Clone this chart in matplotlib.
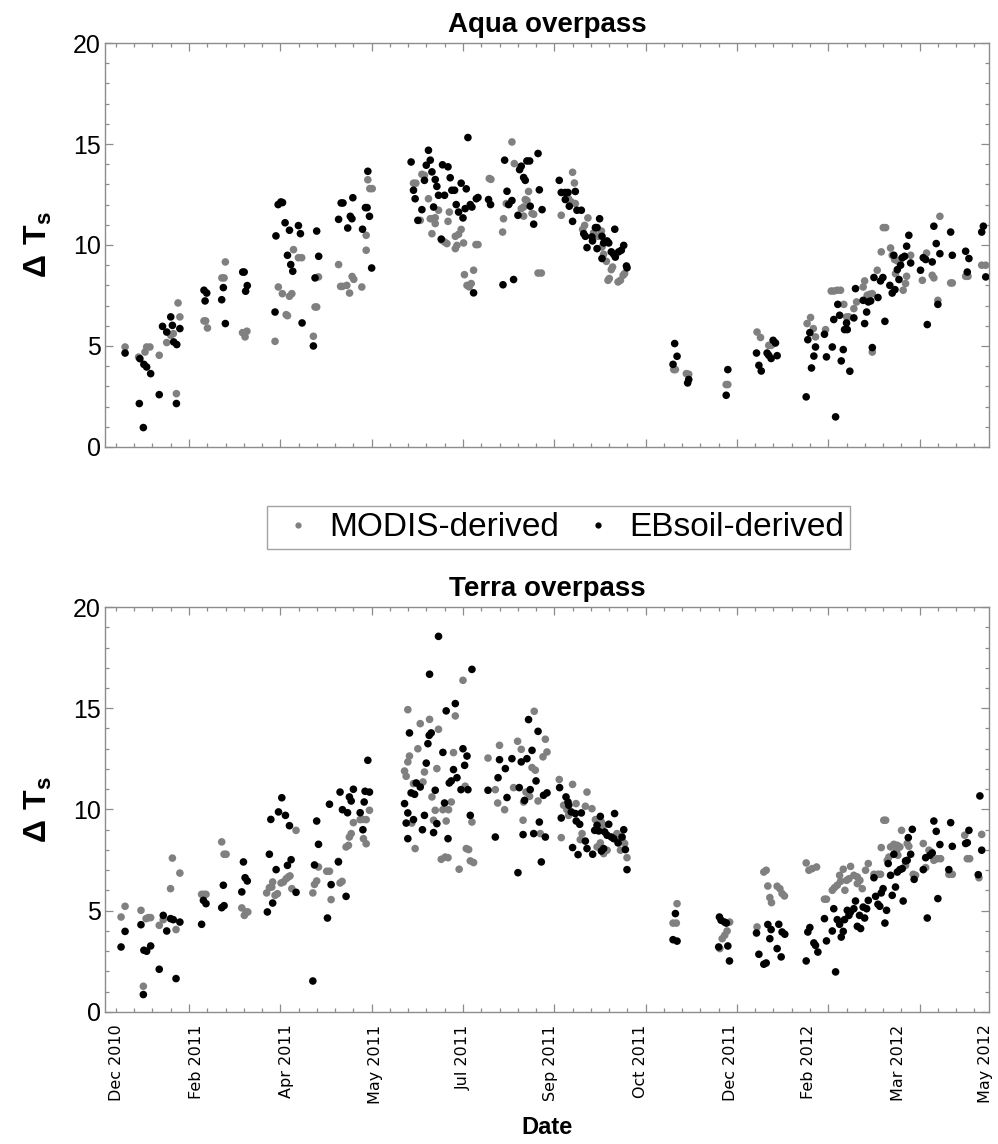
import matplotlib
matplotlib.use("Agg")
import matplotlib.pyplot as plt
from matplotlib.ticker import MultipleLocator
from matplotlib.lines import Line2D

plt.rcParams["font.family"] = ["Liberation Sans", "DejaVu Sans"]
plt.rcParams["mathtext.fontset"] = "custom"
plt.rcParams["mathtext.rm"] = "Liberation Sans"
plt.rcParams["mathtext.bf"] = "Liberation Sans:bold"

# ---------------------------------------------------------------------------
# Observation index (clear-sky scene number) and surface temperature difference
# ---------------------------------------------------------------------------
date_tick_pos = [10.4, 54.2, 103.5, 152.0, 200.0, 247.8, 297.0, 346.4, 389.0, 438.5, 486.0]
date_tick_labels = ["Dec 2010", "Feb 2011", "Apr 2011", "May 2011", "Jul 2011", "Sep 2011",
                    "Oct 2011", "Dec 2011", "Feb 2012", "Mar 2012", "May 2012"]

# ---- Aqua overpass ----
aqua_modis_x = [15.0, 22.4, 25.9, 26.8, 28.6, 33.7, 37.8, 40.0, 41.4, 44.0, 45.0, 43.1,
                58.2, 59.1, 60.1, 68.0, 69.2, 69.9, 79.3, 80.7, 81.7, 97.1, 98.9, 101.1,
                103.2, 103.9, 105.0, 106.3, 107.2, 109.9, 111.7, 118.1, 119.0, 119.9, 120.9,
                131.9, 133.0, 134.0, 136.4, 137.9, 139.3, 140.2, 144.6, 147.0, 147.0, 147.9,
                149.0, 150.3,
                226.8, 214.4, 215.3, 228.1, 172.9, 174.2, 177.5, 178.9, 181.1, 176.6, 182.1,
                183.3, 184.8, 186.6, 184.8, 191.8, 192.5, 183.0, 188.5, 189.9, 191.2, 195.8,
                197.6, 199.0, 196.7, 195.8, 200.3, 207.1, 208.2, 200.8, 205.8, 202.2, 204.5,
                203.4, 223.7, 225.3, 222.2, 221.7, 231.9, 233.2, 234.1, 235.0, 235.9, 237.8,
                238.7, 233.2, 241.1, 242.9, 260.0, 261.0, 253.8, 257.8, 259.3, 261.5, 268.4,
                266.6, 265.5, 273.9, 275.8, 276.1, 277.0, 278.5, 281.9, 281.2, 279.4, 280.1,
                284.9, 286.2, 287.7, 288.5, 271.5,
                315.4, 316.3, 322.3, 323.6, 344.1, 345.0,
                361.0, 362.9, 367.4, 368.7, 370.2, 390.3, 388.4, 391.8, 393.0, 398.5, 401.6,
                403.1, 404.9, 406.7, 408.5, 410.0, 411.3, 414.0, 415.5, 419.1, 419.9, 421.3,
                422.8, 424.1, 424.1, 426.8, 430.1, 431.4, 429.0, 434.1, 435.0, 436.3, 437.8,
                436.8, 442.9, 442.3, 441.0, 445.1, 439.6, 451.5, 453.8, 456.9, 457.8, 460.0,
                461.1, 467.0, 467.9, 475.2, 476.5, 484.0, 486.2]
aqua_modis_y = [4.95, 4.45, 4.70, 4.95, 4.95, 4.54, 5.17, 5.53, 5.61, 7.13, 6.44, 2.64,
                6.24, 6.24, 5.89, 8.37, 8.37, 9.16, 5.66, 5.45, 5.73, 5.23, 7.92, 7.59,
                6.55, 6.50, 7.46, 7.59, 9.77, 9.37, 9.37, 5.48, 6.93, 6.93, 8.42,
                9.03, 7.95, 7.95, 8.00, 7.62, 8.44, 8.30, 7.92, 9.74, 10.48, 13.23,
                12.79, 12.79,
                15.10, 13.29, 13.25, 14.03, 13.06, 13.06, 13.50, 13.45, 12.29, 11.22, 11.30,
                11.30, 11.35, 11.72, 11.06, 11.17, 11.63, 10.56, 10.23, 10.15, 10.07, 10.43,
                10.53, 10.77, 9.98, 9.82, 10.10, 10.02, 10.02, 8.53, 8.75, 8.00, 8.09,
                7.93, 12.05, 12.05, 11.30, 10.64, 11.80, 11.88, 12.25, 12.20, 12.65, 11.56,
                11.52, 11.43, 8.61, 8.61, 13.60, 13.07, 11.47, 12.29, 12.13, 12.05, 11.34,
                10.97, 10.77, 10.43, 10.69, 9.90, 9.54, 9.19, 8.91, 8.78, 8.25, 8.34,
                8.17, 8.25, 8.50, 8.59, 10.60,
                3.83, 3.83, 3.63, 3.60, 3.09, 3.09,
                5.69, 5.42, 5.03, 5.03, 5.12, 6.41, 6.11, 5.86, 5.45, 5.81, 7.72,
                7.72, 7.76, 7.76, 7.06, 6.44, 6.44, 6.85, 7.18, 7.92, 8.22, 7.51,
                7.56, 7.59, 4.70, 8.75, 10.86, 10.86, 9.66, 9.85, 9.49, 9.28, 9.21,
                8.58, 8.45, 8.09, 7.76, 9.49, 9.28, 8.25, 9.60, 8.50, 8.37, 7.26,
                11.42, 8.12, 8.12, 8.45, 8.45, 9.00, 9.00]

aqua_ebsoil_x = [15.0, 23.1, 25.3, 26.8, 29.0, 22.8, 25.0, 33.7, 35.5, 37.8, 40.0, 40.9,
                 41.6, 43.3, 45.0, 43.1, 58.2, 59.7, 58.8, 67.9, 68.8, 69.9, 79.4, 80.2,
                 81.0, 81.9, 97.6, 98.8, 100.3, 101.2, 97.1, 102.6, 103.9, 105.0, 105.7,
                 106.8, 109.9, 111.0, 111.9, 118.1, 119.0, 119.9, 121.0, 131.9, 133.3, 134.3,
                 136.9, 138.3, 139.2, 139.7, 145.0, 146.6, 147.5, 147.9, 148.8, 150.0,
                 202.7, 181.1, 171.6, 182.1, 188.8, 191.8, 179.9, 183.0, 178.9, 184.8, 193.0,
                 172.9, 173.8, 185.7, 186.6, 189.9, 193.9, 195.4, 199.0, 201.8, 177.5, 175.3,
                 183.9, 196.3, 197.6, 200.0, 201.2, 204.0, 204.9, 207.3, 208.2, 214.0, 215.1,
                 188.1, 222.8, 224.1, 225.0, 226.8, 231.0, 231.9, 235.0, 236.5, 241.1, 233.2,
                 234.1, 241.8, 236.8, 243.3, 230.1, 238.7, 221.9, 227.7, 205.8, 252.7, 253.8,
                 256.0, 257.5, 261.5, 256.0, 258.2, 262.4, 264.8, 260.0, 274.8, 266.1, 267.0,
                 272.5, 273.4, 283.1, 270.6, 270.9, 276.1, 277.0, 278.9, 279.8, 267.9, 273.4,
                 276.1, 281.2, 282.5, 285.2, 286.7, 288.0, 283.4, 289.5, 289.8,
                 315.0, 315.9, 317.2, 323.0, 323.6, 344.1, 345.0,
                 360.7, 362.0, 363.3, 366.5, 367.4, 368.7, 369.8, 371.1, 372.0, 387.9, 388.8,
                 389.9, 390.8, 392.1, 393.0, 397.9, 399.0, 403.0, 402.2, 404.0, 405.2, 406.2,
                 408.2, 407.1, 410.0, 408.9, 410.4, 411.8, 414.0, 414.9, 419.1, 419.9, 421.0,
                 421.9, 423.2, 424.1, 425.0, 427.2, 428.6, 429.9, 431.0, 433.7, 435.0, 436.5,
                 435.9, 437.8, 438.7, 439.6, 440.5, 441.8, 442.9, 444.1, 445.1, 450.5, 452.0,
                 453.3, 454.2, 456.9, 457.8, 459.1, 460.0, 461.1, 467.0, 467.9, 475.2, 476.1,
                 477.0, 484.0, 484.9, 486.2]
aqua_ebsoil_y = [4.65, 4.37, 4.09, 3.96, 3.63, 2.15, 0.96, 2.59, 5.97, 5.69, 6.44, 6.02,
                 5.20, 5.07, 5.86, 2.15, 7.76, 7.62, 7.23, 7.29, 7.89, 6.11, 8.66, 8.66,
                 7.71, 7.99, 10.45, 12.00, 12.13, 12.10, 6.68, 11.10, 9.49, 10.73, 9.03,
                 8.70, 10.96, 10.56, 6.14, 5.00, 8.37, 10.69, 9.44, 11.27, 12.08, 12.08,
                 10.84, 11.42, 11.30, 12.34, 10.78, 11.85, 11.85, 13.65, 11.42, 8.86,
                 15.32, 14.69, 14.11, 14.20, 13.97, 13.87, 13.95, 13.62, 13.20, 13.24, 13.33,
                 12.71, 12.29, 12.90, 12.46, 12.46, 12.71, 12.71, 13.06, 12.78, 11.75, 11.22,
                 11.88, 12.00, 11.63, 11.34, 11.80, 12.00, 11.88, 12.29, 12.35, 12.25, 12.00,
                 10.29, 14.20, 12.66, 12.00, 12.20, 13.73, 13.90, 14.16, 14.16, 14.53, 13.34,
                 13.20, 12.73, 11.92, 11.75, 11.47, 11.03, 8.03, 8.29, 7.63, 13.20, 12.60,
                 12.60, 12.60, 12.65, 12.25, 11.92, 11.72, 11.72, 11.17, 11.30, 10.56, 10.43,
                 10.86, 10.86, 10.78, 10.40, 10.20, 10.43, 10.10, 10.20, 10.10, 9.87, 9.82,
                 9.33, 9.66, 9.54, 9.66, 9.74, 9.98, 9.40, 8.96, 8.87,
                 4.09, 5.12, 4.49, 3.17, 3.34, 2.56, 3.83,
                 4.65, 4.04, 3.76, 4.65, 4.54, 4.38, 5.28, 5.15, 4.52, 2.48, 5.31,
                 5.66, 3.91, 4.50, 4.95, 5.58, 4.46, 6.31, 4.95, 1.49, 7.06, 6.52,
                 4.82, 4.26, 6.14, 5.81, 5.81, 3.75, 6.39, 7.84, 7.26, 6.11, 6.68,
                 7.18, 7.23, 4.92, 8.39, 7.40, 8.22, 8.39, 6.22, 8.00, 7.62, 7.79,
                 9.49, 8.78, 8.29, 9.00, 9.37, 9.44, 9.94, 10.48, 9.11, 8.75, 9.37,
                 9.28, 6.06, 9.16, 10.93, 10.07, 7.06, 9.57, 10.64, 9.49, 9.69, 8.66,
                 9.33, 10.64, 10.93, 8.42]

# ---- Terra overpass ----
terra_modis_x = [12.8, 15.0, 23.7, 25.0, 26.5, 27.7, 29.0, 33.7, 35.9, 39.9, 40.9, 42.9,
                 45.0, 56.9, 58.2, 59.3, 67.9, 69.2, 70.3, 78.9, 80.3, 81.3, 82.2, 92.5,
                 94.0, 95.3, 95.8, 97.1, 98.4, 100.4, 101.7, 103.2, 104.4, 105.3, 106.3,
                 108.6, 117.8, 118.7, 119.9, 120.9, 125.4, 126.9, 127.8, 131.8, 132.7, 133.8,
                 136.0, 137.3, 137.8, 138.8, 140.0, 143.7, 145.2, 145.5, 147.0, 148.8, 147.0,
                 200.0, 169.8, 195.8, 176.6, 181.7, 186.6, 175.3, 170.7, 169.8, 168.0, 168.9,
                 172.9, 178.9, 178.1, 185.7, 194.8, 201.2, 183.0, 193.6, 184.8, 189.0, 192.1,
                 172.0, 183.9, 190.8, 204.9, 173.8, 201.8, 203.1, 188.1, 190.3, 191.8, 204.0,
                 205.8, 197.9, 213.7, 220.0, 217.7, 219.0, 222.8, 227.7, 229.9, 231.9, 234.5,
                 233.2, 236.5, 237.8, 239.6, 239.0, 245.1, 246.0, 243.8, 241.1, 232.9, 242.3,
                 252.7, 260.0, 267.9, 255.1, 256.9, 261.9, 257.8, 267.0, 270.6, 272.5, 253.8,
                 264.2, 265.2, 275.8, 277.0, 273.4, 277.0, 278.9, 275.2, 284.3, 284.9, 287.1,
                 288.5, 289.8, 286.2,
                 315.0, 316.8, 317.2, 340.6, 341.9, 343.3, 344.6, 346.0,
                 361.0, 364.7, 366.0, 366.9, 368.0, 368.9, 372.0, 373.5, 374.7, 376.0, 387.9,
                 389.4, 391.2, 393.6, 397.9, 399.0, 402.2, 403.4, 404.9, 406.7, 408.2, 406.2,
                 409.1, 410.0, 411.3, 412.2, 414.0, 415.9, 417.3, 415.9, 418.6, 420.4, 421.9,
                 425.0, 427.2, 428.6, 429.0, 430.4, 431.4, 432.3, 433.2, 434.1, 435.9, 437.8,
                 439.2, 437.4, 438.1, 440.1, 442.3, 443.2, 444.1, 446.5, 447.8, 452.0, 453.3,
                 455.1, 456.4, 457.8, 459.7, 461.5, 466.0, 467.9, 474.7, 476.1, 477.4, 482.5,
                 484.0]
terra_modis_y = [4.69, 5.22, 5.02, 1.27, 4.61, 4.66, 4.66, 4.28, 4.56, 6.09, 7.60, 4.07,
                 6.86, 5.81, 5.81, 5.81, 8.40, 7.79, 7.79, 5.14, 4.77, 4.94, 4.94, 5.88,
                 6.14, 6.17, 6.42, 5.76, 5.84, 6.37, 6.42, 6.58, 6.67, 6.72, 6.09,
                 8.97, 5.88, 6.30, 6.47, 7.16, 6.95, 6.95, 5.55, 7.44, 6.37, 6.45,
                 8.15, 8.23, 8.64, 8.81, 9.35, 9.50, 9.51, 8.56, 8.31, 9.96, 9.50,
                 16.38, 14.93, 14.62, 14.24, 14.45, 13.96, 13.00, 12.64, 12.35, 11.90, 11.64,
                 11.28, 11.85, 11.36, 12.02, 12.81, 11.15, 10.62, 10.37, 9.96, 9.99, 9.99,
                 9.33, 9.47, 9.43, 9.38, 8.07, 8.07, 8.02, 7.54, 7.65, 7.62, 7.46,
                 7.38, 7.05, 12.54, 13.17, 10.98, 10.32, 9.99, 11.08, 13.37, 12.97, 10.86,
                 10.37, 10.65, 12.07, 11.94, 14.85, 13.47, 12.84, 12.60, 10.42, 9.47, 8.81,
                 11.48, 11.24, 10.86, 10.21, 9.99, 10.29, 9.71, 10.16, 10.04, 9.50, 8.61,
                 8.51, 8.81, 9.38, 9.22, 8.15, 7.82, 7.99, 8.35, 8.81, 8.48, 8.48,
                 8.32, 7.62, 7.99,
                 4.39, 4.39, 5.35, 3.13, 3.62, 3.79, 4.00, 4.44,
                 4.20, 6.91, 7.00, 6.22, 5.65, 5.40, 6.21, 6.09, 5.85, 5.73, 7.36,
                 7.00, 7.08, 7.16, 5.57, 5.57, 6.01, 6.14, 6.26, 6.45, 7.05, 6.75,
                 6.01, 6.50, 6.58, 7.19, 6.75, 6.67, 6.50, 6.34, 6.09, 7.00, 7.33,
                 6.80, 6.80, 6.80, 8.12, 9.47, 9.47, 7.49, 7.65, 8.15, 8.28, 8.23,
                 8.15, 7.95, 7.74, 8.97, 7.24, 8.32, 8.18, 6.80, 6.75, 8.32, 7.13,
                 7.99, 7.90, 7.49, 7.57, 7.57, 6.80, 6.80, 8.73, 7.57, 7.57, 6.63,
                 8.77]

terra_ebsoil_x = [12.8, 15.0, 23.7, 25.3, 26.8, 25.0, 29.0, 33.7, 35.9, 37.8, 39.9, 41.4,
                  42.9, 45.0, 56.9, 57.9, 59.3, 67.9, 69.2, 68.8, 78.9, 79.8, 80.7, 81.9,
                  92.9, 94.0, 94.8, 95.8, 97.7, 99.0, 100.8, 102.8, 103.9, 105.0, 105.9,
                  108.6, 117.8, 118.7, 119.9, 120.9, 125.8, 126.9, 127.8, 131.8, 132.7, 134.0,
                  136.0, 136.8, 137.8, 138.8, 140.0, 143.7, 145.2, 145.9, 146.4, 148.8, 147.9,
                  186.6, 181.7, 204.9, 195.8, 190.8, 170.7, 182.6, 181.5, 180.8, 189.0, 200.0,
                  202.2, 200.9, 179.9, 194.8, 196.7, 193.6, 192.5, 174.4, 176.6, 171.6, 173.5,
                  184.8, 198.9, 202.7, 168.0, 189.9, 169.8, 178.9, 172.9, 168.9, 185.7, 204.0,
                  177.8, 183.9, 169.8, 191.8, 213.7, 220.0, 226.8, 223.2, 219.2, 231.9, 235.0,
                  237.8, 241.1, 235.9, 240.0, 230.8, 236.8, 224.1, 233.7, 244.1, 246.0, 241.8,
                  217.7, 232.9, 238.7, 245.1, 242.9, 230.1, 252.9, 256.4, 257.5, 257.9, 259.3,
                  261.5, 264.8, 253.8, 262.0, 263.9, 275.2, 283.0, 273.4, 272.1, 274.3, 279.8,
                  277.6, 278.9, 281.2, 282.5, 288.0, 267.0, 260.0, 267.9, 263.0, 271.0, 277.0,
                  275.8, 284.9, 287.1, 288.9, 289.8,
                  316.3, 315.0, 317.2, 340.4, 341.3, 343.2, 344.2, 340.0, 345.0, 345.9,
                  360.7, 362.0, 364.7, 366.0, 366.9, 368.7, 368.0, 372.0, 372.9, 374.2, 374.7,
                  376.2, 387.9, 388.8, 389.9, 392.1, 393.0, 394.3, 397.9, 399.0, 402.2, 403.0,
                  404.0, 404.9, 406.2, 408.2, 407.1, 408.9, 410.4, 411.3, 412.2, 414.0, 414.9,
                  415.9, 417.7, 417.1, 419.1, 421.0, 419.9, 421.9, 425.0, 425.9, 427.2, 428.2,
                  429.0, 430.0, 431.0, 431.9, 432.8, 434.1, 435.0, 435.9, 436.8, 437.8, 439.2,
                  440.5, 441.0, 442.3, 443.2, 443.8, 445.1, 446.0, 447.0, 452.0, 453.3, 454.2,
                  455.6, 456.9, 457.8, 459.1, 460.0, 461.1, 466.0, 467.0, 467.9, 475.2, 476.1,
                  477.0, 482.1, 483.0, 484.0]
terra_ebsoil_y = [3.21, 3.98, 4.31, 3.05, 3.00, 0.86, 3.26, 2.11, 4.77, 4.00, 4.61, 4.56,
                  1.65, 4.44, 4.33, 5.51, 5.35, 5.15, 5.25, 6.26, 5.93, 7.41, 6.63, 6.47,
                  4.94, 7.79, 9.51, 5.38, 7.03, 9.88, 10.58, 9.71, 7.24, 9.20, 7.52,
                  5.91, 1.53, 7.26, 9.43, 8.28, 4.64, 10.26, 6.29, 7.41, 10.86, 9.99,
                  5.71, 9.84, 10.62, 10.42, 11.00, 9.84, 9.00, 10.37, 10.90, 10.86, 12.43,
                  18.55, 16.68, 16.92, 15.23, 14.87, 13.78, 13.78, 13.66, 13.25, 12.82, 13.00,
                  12.64, 12.18, 12.29, 11.97, 11.57, 11.41, 11.31, 11.31, 11.11, 10.82, 10.75,
                  10.95, 10.98, 10.98, 10.29, 10.32, 9.83, 9.71, 9.50, 9.33, 9.30, 9.71,
                  9.00, 8.86, 8.56, 8.56, 10.95, 12.46, 12.51, 12.02, 11.57, 12.35, 12.51,
                  12.92, 13.86, 14.44, 11.41, 11.08, 10.98, 10.59, 10.45, 10.70, 10.82, 9.38,
                  8.64, 8.76, 8.81, 8.64, 7.41, 6.88, 11.08, 10.62, 10.37, 10.21, 9.88,
                  9.80, 9.83, 9.58, 9.43, 9.27, 9.66, 9.80, 9.22, 8.97, 8.94, 9.27,
                  8.89, 8.73, 8.64, 8.56, 9.00, 8.44, 8.12, 8.07, 7.77, 7.79, 8.07,
                  7.95, 8.35, 8.64, 8.02, 7.03,
                  4.86, 3.57, 3.50, 4.69, 4.53, 4.44, 4.39, 3.21, 3.26, 2.52,
                  3.90, 2.85, 2.36, 2.42, 4.32, 4.07, 3.62, 3.13, 4.33, 2.72, 3.95,
                  3.84, 2.52, 3.95, 4.17, 3.41, 3.29, 2.96, 4.61, 3.51, 4.00, 5.10,
                  1.98, 4.56, 4.33, 3.98, 3.70, 4.56, 5.02, 4.77, 4.94, 5.10, 5.48,
                  4.23, 4.12, 4.77, 5.18, 5.10, 4.64, 5.51, 6.63, 5.71, 5.32, 5.22,
                  5.88, 6.09, 4.39, 5.02, 7.33, 6.75, 5.76, 7.79, 6.17, 6.91, 7.03,
                  7.08, 5.48, 7.46, 7.49, 8.61, 7.79, 9.02, 6.55, 7.03, 7.62, 4.64,
                  7.74, 7.85, 9.43, 8.92, 5.60, 8.27, 7.03, 9.35, 8.18, 8.32, 8.36,
                  8.97, 6.78, 10.67, 7.99]

series_names = ["MODIS-derived", "EBsoil-derived"]
series_colors = ["#808080", "#000000"]

FRAME = "#8c8c8c"

fig = plt.figure(figsize=(9.98, 11.44), dpi=100)
ax_top = fig.add_axes([0.1052, 0.6093, 0.8858, 0.3531])
ax_bot = fig.add_axes([0.1052, 0.1154, 0.8858, 0.3540])

panels = [
    (ax_top, "Aqua overpass", (aqua_modis_x, aqua_modis_y), (aqua_ebsoil_x, aqua_ebsoil_y)),
    (ax_bot, "Terra overpass", (terra_modis_x, terra_modis_y), (terra_ebsoil_x, terra_ebsoil_y)),
]

for ax, title, modis, ebsoil in panels:
    ax.scatter(modis[0], modis[1], s=30, color=series_colors[0], edgecolors="none", zorder=2)
    ax.scatter(ebsoil[0], ebsoil[1], s=30, color=series_colors[1], edgecolors="none", zorder=3)
    ax.set_xlim(4, 488)
    ax.set_ylim(0, 20)
    ax.xaxis.set_major_locator(MultipleLocator(50))
    ax.xaxis.set_minor_locator(MultipleLocator(10))
    ax.yaxis.set_major_locator(MultipleLocator(5))
    ax.yaxis.set_minor_locator(MultipleLocator(1))
    ax.tick_params(which="both", direction="in", top=True, right=True,
                   color=FRAME, width=0.9)
    ax.tick_params(which="major", length=5.5)
    ax.tick_params(which="minor", length=3)
    ax.tick_params(axis="x", labelbottom=False)
    ax.tick_params(axis="y", labelsize=18, pad=3)
    for sp in ax.spines.values():
        sp.set_color(FRAME)
        sp.set_linewidth(1.0)
    ax.set_title(title, fontsize=20, fontweight="bold", pad=8)
    ax.set_ylabel(r"$\mathbf{\Delta\ T_s}$", fontsize=23, labelpad=14)

# Date labels along the bottom panel
sec = ax_bot.secondary_xaxis("bottom")
sec.set_xticks(date_tick_pos)
sec.set_xticklabels(date_tick_labels, rotation=90, fontsize=11.5, family="DejaVu Sans")
sec.tick_params(length=0, pad=9)
sec.spines["bottom"].set_visible(False)
sec.set_xlabel("Date", fontsize=17, fontweight="bold", labelpad=9)

handles = [Line2D([], [], linestyle="none", marker="o", markersize=4.5,
                  markerfacecolor=c, markeredgecolor="none") for c in series_colors]
leg = fig.legend(handles, series_names, loc="center", bbox_to_anchor=(0.5596, 0.5385),
                 ncol=2, fontsize=24, frameon=True, fancybox=False, borderpad=0.18,
                 handlelength=1.52, handletextpad=0.17, columnspacing=0.42,
                 borderaxespad=0)
leg.get_frame().set_edgecolor(FRAME)
leg.get_frame().set_linewidth(1.0)

fig.savefig("out.png", dpi=100)
